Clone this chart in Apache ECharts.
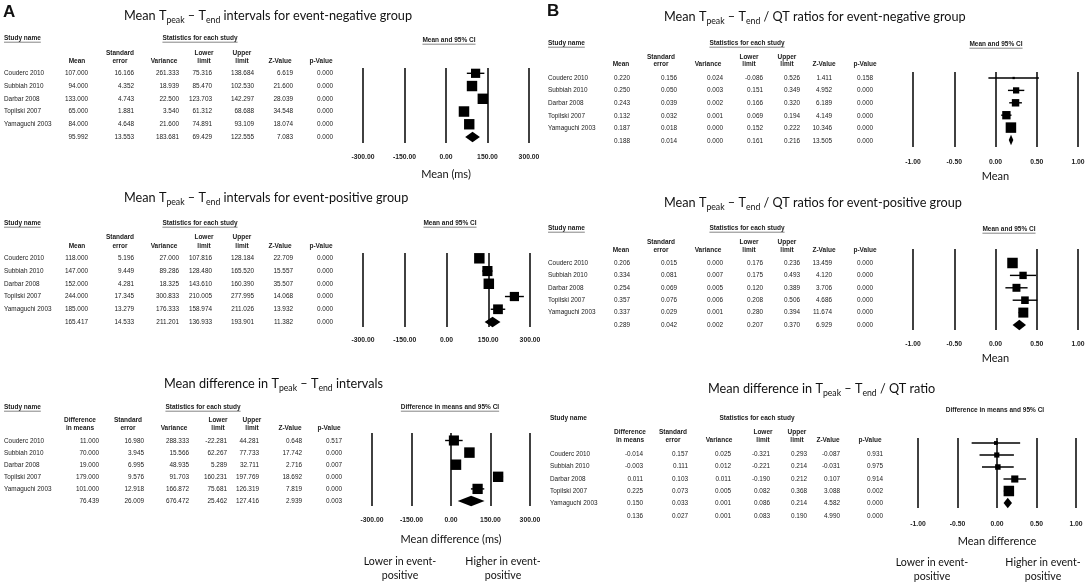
<!DOCTYPE html>
<html><head><meta charset="utf-8">
<script src="https://cdn.jsdelivr.net/npm/echarts@6/dist/echarts.min.js"></script>
<style>html,body{margin:0;padding:0;background:#fff}#c{width:1088px;height:584px}</style>
</head><body><div id="c"></div>
<script>
// ---------------- DATA ----------------
const studyNames = ['Couderc 2010','Subbiah 2010','Darbar 2008','Topilski 2007','Yamaguchi 2003'];
const headsMean = ['Mean','Standard\nerror','Variance','Lower\nlimit','Upper\nlimit','Z-Value','p-Value'];
const headsDiff = ['Difference\nin means','Standard\nerror','Variance','Lower\nlimit','Upper\nlimit','Z-Value','p-Value'];
const ticksMs = [-300, -150, 0, 150, 300];
const ticksRatio = [-1, -0.5, 0, 0.5, 1];

// A1: Tpeak-Tend, event-negative (last value = pooled)
const a1Mean  = [107.000, 94.000, 133.000, 65.000, 84.000, 95.992];
const a1SE    = [16.166, 4.352, 4.743, 1.881, 4.648, 13.553];
const a1Var   = [261.333, 18.939, 22.500, 3.540, 21.600, 183.681];
const a1Lower = [75.316, 85.470, 123.703, 61.312, 74.891, 69.429];
const a1Upper = [138.684, 102.530, 142.297, 68.688, 93.109, 122.555];
const a1Z     = [6.619, 21.600, 28.039, 34.548, 18.074, 7.083];
const a1P     = [0.000, 0.000, 0.000, 0.000, 0.000, 0.000];
// A2: Tpeak-Tend, event-positive
const a2Mean  = [118.000, 147.000, 152.000, 244.000, 185.000, 165.417];
const a2SE    = [5.196, 9.449, 4.281, 17.345, 13.279, 14.533];
const a2Var   = [27.000, 89.286, 18.325, 300.833, 176.333, 211.201];
const a2Lower = [107.816, 128.480, 143.610, 210.005, 158.974, 136.933];
const a2Upper = [128.184, 165.520, 160.390, 277.995, 211.026, 193.901];
const a2Z     = [22.709, 15.557, 35.507, 14.068, 13.932, 11.382];
const a2P     = [0.000, 0.000, 0.000, 0.000, 0.000, 0.000];
// A3: difference in Tpeak-Tend
const a3Diff  = [11.000, 70.000, 19.000, 179.000, 101.000, 76.439];
const a3SE    = [16.980, 3.945, 6.995, 9.576, 12.918, 26.009];
const a3Var   = [288.333, 15.566, 48.935, 91.703, 166.872, 676.472];
const a3Lower = [-22.281, 62.267, 5.289, 160.231, 75.681, 25.462];
const a3Upper = [44.281, 77.733, 32.711, 197.769, 126.319, 127.416];
const a3Z     = [0.648, 17.742, 2.716, 18.692, 7.819, 2.939];
const a3P     = [0.517, 0.000, 0.007, 0.000, 0.000, 0.003];
// B1: Tpeak-Tend/QT, event-negative
const b1Mean  = [0.220, 0.250, 0.243, 0.132, 0.187, 0.188];
const b1SE    = [0.156, 0.050, 0.039, 0.032, 0.018, 0.014];
const b1Var   = [0.024, 0.003, 0.002, 0.001, 0.000, 0.000];
const b1Lower = [-0.086, 0.151, 0.166, 0.069, 0.152, 0.161];
const b1Upper = [0.526, 0.349, 0.320, 0.194, 0.222, 0.216];
const b1Z     = [1.411, 4.952, 6.189, 4.149, 10.346, 13.505];
const b1P     = [0.158, 0.000, 0.000, 0.000, 0.000, 0.000];
// B2: Tpeak-Tend/QT, event-positive
const b2Mean  = [0.206, 0.334, 0.254, 0.357, 0.337, 0.289];
const b2SE    = [0.015, 0.081, 0.069, 0.076, 0.029, 0.042];
const b2Var   = [0.000, 0.007, 0.005, 0.006, 0.001, 0.002];
const b2Lower = [0.176, 0.175, 0.120, 0.208, 0.280, 0.207];
const b2Upper = [0.236, 0.493, 0.389, 0.506, 0.394, 0.370];
const b2Z     = [13.459, 4.120, 3.706, 4.686, 11.674, 6.929];
const b2P     = [0.000, 0.000, 0.000, 0.000, 0.000, 0.000];
// B3: difference in Tpeak-Tend/QT
const b3Diff  = [-0.014, -0.003, 0.011, 0.225, 0.150, 0.136];
const b3SE    = [0.157, 0.111, 0.103, 0.073, 0.033, 0.027];
const b3Var   = [0.025, 0.012, 0.011, 0.005, 0.001, 0.001];
const b3Lower = [-0.321, -0.221, -0.190, 0.082, 0.086, 0.083];
const b3Upper = [0.293, 0.214, 0.212, 0.368, 0.214, 0.190];
const b3Z     = [-0.087, -0.031, 0.107, 3.088, 4.582, 4.990];
const b3P     = [0.931, 0.975, 0.914, 0.002, 0.000, 0.000];

// ---------------- LAYOUT ----------------
const TABLE_FONT = '"Liberation Sans", Arial, sans-serif';
const TITLE_FONT = 'Lato, "Open Sans", sans-serif';
const panels = [
  { key:'A1', title:['Mean T','peak',' – T','end',' intervals for event-negative group'], titleX:124, titleY:16,
    heads:headsMean, cols:[a1Mean,a1SE,a1Var,a1Lower,a1Upper,a1Z,a1P], est:a1Mean, se:a1SE, lo:a1Lower, hi:a1Upper,
    tbl:{nameX:4, yHead:38, statX:200, yH1:53, yH2:61, row0:73.3, step:12.74, headX:[77,120,164,204,242,280,321], colR:[88,134,179,212,254,293,333], underline:true},
    grid:{left:363, top:68, width:166, height:75}, rowPix:[73.3,137], ticks:ticksMs, labelMargin:11,
    plotHead:'Mean and 95% CI', plotHeadX:449, plotHeadY:40, axisName:'Mean (ms)', nameGap:26 },
  { key:'A2', title:['Mean T','peak',' – T','end',' intervals for event-positive group'], titleX:124, titleY:198,
    heads:headsMean, cols:[a2Mean,a2SE,a2Var,a2Lower,a2Upper,a2Z,a2P], est:a2Mean, se:a2SE, lo:a2Lower, hi:a2Upper,
    tbl:{nameX:4, yHead:223, statX:200, yH1:237.5, yH2:246, row0:258.3, step:12.74, headX:[77,120,164,204,242,280,321], colR:[88,134,179,212,254,293,333], underline:true},
    grid:{left:363, top:253, width:167, height:74}, rowPix:[258.3,322], ticks:ticksMs, labelMargin:10,
    plotHead:'Mean and 95% CI', plotHeadX:450, plotHeadY:223, axisName:'', nameGap:26 },
  { key:'A3', title:['Mean difference in T','peak',' – T','end',' intervals'], titleX:164, titleY:384,
    heads:headsDiff, cols:[a3Diff,a3SE,a3Var,a3Lower,a3Upper,a3Z,a3P], est:a3Diff, se:a3SE, lo:a3Lower, hi:a3Upper,
    tbl:{nameX:4, yHead:407, statX:203, yH1:420, yH2:428, row0:441, step:12, headX:[80,128,174,218,252,290,329], colR:[99,144,189,227,259,302,342], underline:true},
    grid:{left:372, top:433, width:158, height:73}, rowPix:[440.5,501], ticks:ticksMs, labelMargin:11,
    plotHead:'Difference in means and 95% CI', plotHeadX:450, plotHeadY:407, axisName:'Mean difference (ms)', nameGap:28,
    sides:{lowX:400, highX:503, y:562} },
  { key:'B1', title:['Mean T','peak',' – T','end',' / QT ratios for event-negative group'], titleX:664, titleY:17,
    heads:headsMean, cols:[b1Mean,b1SE,b1Var,b1Lower,b1Upper,b1Z,b1P], est:b1Mean, se:b1SE, lo:b1Lower, hi:b1Upper,
    tbl:{nameX:548, yHead:43, statX:747, yH1:57, yH2:64.5, row0:78, step:12.6, headX:[621,661,708,749,787,824,865], colR:[630,677,723,763,800,832,873], underline:true},
    grid:{left:913, top:72, width:165, height:75}, rowPix:[78,140], ticks:ticksRatio, labelMargin:12,
    plotHead:'Mean and 95% CI', plotHeadX:996, plotHeadY:44, axisName:'Mean', nameGap:24 },
  { key:'B2', title:['Mean T','peak',' – T','end',' / QT ratios for event-positive group'], titleX:664, titleY:203,
    heads:headsMean, cols:[b2Mean,b2SE,b2Var,b2Lower,b2Upper,b2Z,b2P], est:b2Mean, se:b2SE, lo:b2Lower, hi:b2Upper,
    tbl:{nameX:548, yHead:228, statX:747, yH1:242, yH2:250, row0:263, step:12.4, headX:[621,661,708,749,787,824,865], colR:[630,677,723,763,800,832,873], underline:true},
    grid:{left:913, top:249, width:165, height:81}, rowPix:[263,325], ticks:ticksRatio, labelMargin:11,
    plotHead:'Mean and 95% CI', plotHeadX:1009, plotHeadY:229, axisName:'Mean', nameGap:23 },
  { key:'B3', title:['Mean difference in T','peak',' – T','end',' / QT ratio'], titleX:708, titleY:389,
    heads:headsDiff, cols:[b3Diff,b3SE,b3Var,b3Lower,b3Upper,b3Z,b3P], est:b3Diff, se:b3SE, lo:b3Lower, hi:b3Upper,
    tbl:{nameX:550, yHead:418, statX:757, yH1:432, yH2:440, row0:454, step:12.4, headX:[630,673,719,763,797,828,870], colR:[643,688,731,770,807,840,883], underline:false},
    grid:{left:918, top:438, width:158, height:70}, rowPix:[443,503], ticks:ticksRatio, labelMargin:13,
    plotHead:'Difference in means and 95% CI', plotHeadX:995, plotHeadY:410, axisName:'Mean difference', nameGap:28,
    sides:{lowX:932, highX:1043, y:563} }
];

// ---------------- HELPERS ----------------
const mctx = document.createElement('canvas').getContext('2d');
function textW(t, font){ mctx.font = font; return mctx.measureText(t).width; }
const fontBody = '6.4px ' + TABLE_FONT;
const fontHead = 'bold 6.5px ' + TABLE_FONT;
const TITLE_SIZE = 12.7, SUB_SIZE = 8.7, LABEL_SIZE = 10.6;
function T(x, y, text, font, align, color){
  return {type:'text', x:x, y:y, silent:true,
    style:{text:text, font:font, fill:color||'#1a1a1a', align:align||'left', verticalAlign:'middle'}};
}
function U(x1, x2, y){
  return {type:'line', silent:true, shape:{x1:x1, y1:y, x2:x2, y2:y}, style:{stroke:'#333', lineWidth:0.6}};
}
function underlined(g, x, y, text, align, ul){
  g.push(T(x, y, text, fontHead, align));
  if (!ul) return;
  const w = textW(text, fontHead);
  const x1 = align === 'center' ? x - w/2 : x;
  g.push(U(x1, x1 + w, y + 4.2));
}
// DerSimonian-Laird random-effects weights from the study estimates and SEs
function reWeights(y, se){
  const v = se.map(s => s*s), w = v.map(x => 1/x);
  const sw = w.reduce((a,b)=>a+b,0);
  const m = w.reduce((a,wi,i)=>a+wi*y[i],0)/sw;
  const Q = w.reduce((a,wi,i)=>a+wi*(y[i]-m)*(y[i]-m),0);
  const C = sw - w.reduce((a,wi)=>a+wi*wi,0)/sw;
  const tau2 = Math.max(0, (Q - (y.length-1))/C);
  return v.map(x => 1/(x+tau2));
}

// ---------------- BUILD ----------------
const graphics = [];
graphics.push(T(3, 12, 'A', 'bold 17px ' + TABLE_FONT, 'left', '#111'));
graphics.push(T(547, 11, 'B', 'bold 17px ' + TABLE_FONT, 'left', '#111'));

const grids = [], xAxes = [], yAxes = [], series = [];
panels.forEach((P, i) => {
  // title with subscripts
  const parts = P.title;
  const rt = parts.map((s, k) => (k % 2 === 0 ? '{m|' : '{s|') + s + '}').join('');
  graphics.push({type:'text', x:P.titleX, y:P.titleY, silent:true, style:{
    text: rt, align:'left', verticalAlign:'middle', fill:'#111',
    rich:{ m:{fontSize:TITLE_SIZE, fontFamily:TITLE_FONT, lineHeight:18, verticalAlign:'middle', fill:'#111'},
           s:{fontSize:SUB_SIZE, fontFamily:TITLE_FONT, lineHeight:10, verticalAlign:'bottom', fill:'#111'} }}});
  // table
  const t = P.tbl;
  underlined(graphics, t.nameX, t.yHead, 'Study name', 'left', t.underline);
  underlined(graphics, t.statX, t.yHead, 'Statistics for each study', 'center', t.underline);
  P.heads.forEach((h, j) => {
    const ls = h.split('\n');
    if (ls.length === 2) {
      graphics.push(T(t.headX[j], t.yH1, ls[0], fontHead, 'center'));
      graphics.push(T(t.headX[j], t.yH2, ls[1], fontHead, 'center'));
    } else graphics.push(T(t.headX[j], t.yH2, ls[0], fontHead, 'center'));
  });
  for (let r = 0; r < 6; r++) {
    const y = t.row0 + r * t.step;
    if (r < 5) graphics.push(T(t.nameX, y, studyNames[r], fontBody, 'left'));
    P.cols.forEach((col, j) => graphics.push(T(t.colR[j], y, col[r].toFixed(3), fontBody, 'right')));
  }
  // plot header
  underlined(graphics, P.plotHeadX, P.plotHeadY, P.plotHead, 'center', t.underline);
  if (P.sides) {
    const f = LABEL_SIZE + 'px ' + TITLE_FONT;
    graphics.push(T(P.sides.lowX, P.sides.y, 'Lower in event-', f, 'center', '#111'));
    graphics.push(T(P.sides.lowX, P.sides.y + 13.5, 'positive', f, 'center', '#111'));
    graphics.push(T(P.sides.highX, P.sides.y, 'Higher in event-', f, 'center', '#111'));
    graphics.push(T(P.sides.highX, P.sides.y + 13.5, 'positive', f, 'center', '#111'));
  }
  // forest grid
  const g = P.grid;
  grids.push({left:g.left, top:g.top, width:g.width, height:g.height, containLabel:false});
  const step = (P.rowPix[1] - P.rowPix[0]) / 5;
  const yMin = -(P.rowPix[0] - g.top) / step;
  const yMax = 5 + (g.top + g.height - P.rowPix[1]) / step;
  const tk = P.ticks;
  xAxes.push({gridIndex:i, type:'value', min:tk[0], max:tk[tk.length-1], interval:tk[1]-tk[0],
    axisLine:{show:false}, axisTick:{show:false},
    splitLine:{show:true, lineStyle:{color:'#111', width:1.6}},
    axisLabel:{formatter:v => v.toFixed(2), fontSize:6.8, fontWeight:'bold', fontFamily:TABLE_FONT, color:'#222', margin:P.labelMargin, showMinLabel:true, showMaxLabel:true},
    name:P.axisName, nameLocation:'middle', nameGap:P.nameGap,
    nameTextStyle:{fontSize:LABEL_SIZE + 0.4, fontFamily:TITLE_FONT, color:'#111'}});
  yAxes.push({gridIndex:i, type:'value', inverse:true, min:yMin, max:yMax, show:false});
  const w = reWeights(P.est.slice(0,5), P.se.slice(0,5));
  const wmax = Math.max.apply(null, w);
  const data = [];
  for (let r = 0; r < 6; r++) {
    const size = r < 5 ? Math.max(2, 10.5 * Math.sqrt(w[r] / wmax)) : 0;
    data.push([P.est[r], r, P.lo[r], P.hi[r], size, r === 5 ? 1 : 0]);
  }
  series.push({type:'custom', coordinateSystem:'cartesian2d', xAxisIndex:i, yAxisIndex:i, clip:false, silent:true,
    data:data,
    renderItem:function(params, api){
      const row = api.value(1);
      const c = api.coord([api.value(0), row]);
      const lo = api.coord([api.value(2), row]);
      const hi = api.coord([api.value(3), row]);
      if (api.value(5) === 1) {
        const h = 5.2;
        return {type:'polygon', shape:{points:[[lo[0], c[1]], [c[0], c[1]-h], [hi[0], c[1]], [c[0], c[1]+h]]},
          style:{fill:'#000'}};
      }
      const s = api.value(4);
      return {type:'group', children:[
        {type:'line', shape:{x1:lo[0], y1:c[1], x2:hi[0], y2:c[1]}, style:{stroke:'#000', lineWidth:1.4}},
        {type:'rect', shape:{x:c[0]-s/2, y:c[1]-s/2, width:s, height:s}, style:{fill:'#000'}}
      ]};
    }});
});

const chart = echarts.init(document.getElementById('c'));
chart.setOption({
  backgroundColor:'#fff', animation:false,
  grid:grids, xAxis:xAxes, yAxis:yAxes, series:series, graphic:graphics
});
</script></body></html>
